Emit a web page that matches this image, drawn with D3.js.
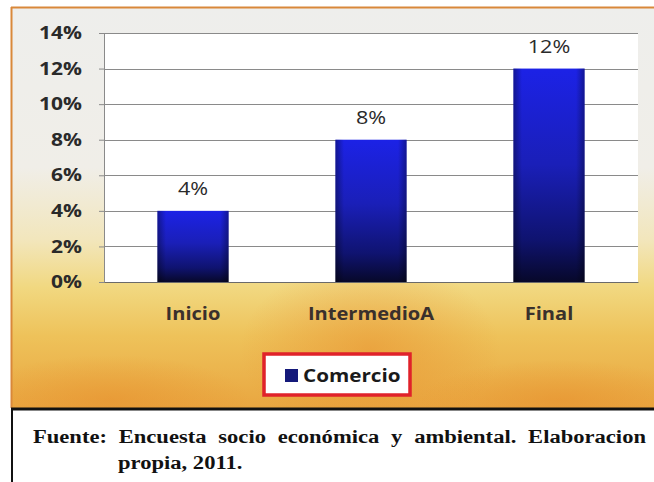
<!DOCTYPE html>
<html><head><meta charset="utf-8">
<script src="https://cdn.jsdelivr.net/npm/d3@7"></script>
<style>html,body{margin:0;padding:0;background:#fff;overflow:hidden}</style>
</head><body>
<svg id="c" width="654" height="482"></svg>
<script>
const categories = ["Inicio", "IntermedioA", "Final"];
const comercio = [0.04, 0.08, 0.12];
const yTicks = [0, 0.02, 0.04, 0.06, 0.08, 0.10, 0.12, 0.14];
const seriesName = "Comercio";
const sourceLine1 = ["Fuente:", "Encuesta", "socio", "económica", "y", "ambiental.", "Elaboracion"];
const sourceLine2 = "propia, 2011.";

(function(){
const svg = d3.select("#c");
const defs = svg.append("defs");
const SANS = "'Open Sans', Lato, sans-serif";
function stretch(sel, k){
  sel.each(function(){ const w = this.getComputedTextLength();
    d3.select(this).attr("textLength", w*k).attr("lengthAdjust","spacingAndGlyphs"); });
}

defs.append("clipPath").attr("id","frameClip").append("rect").attr("x",11).attr("y",7).attr("width",660).attr("height",401);

const bg = defs.append("linearGradient").attr("id","bg").attr("x1",0).attr("y1",0).attr("x2",0).attr("y2",1);
[[0,"#eeeeec"],[0.4,"#f0eee8"],[0.58,"#f2e6bc"],[0.7,"#f1d880"],[0.82,"#eec25a"],[1,"#e9a640"]]
  .forEach(([o,c])=>bg.append("stop").attr("offset",o).attr("stop-color",c));
const blot = defs.append("radialGradient").attr("id","blot").attr("cx",0.5).attr("cy",0.5).attr("r",0.5);
blot.append("stop").attr("offset",0).attr("stop-color","#e8902e").attr("stop-opacity",0.55);
blot.append("stop").attr("offset",1).attr("stop-color","#e8902e").attr("stop-opacity",0);
const bar = defs.append("linearGradient").attr("id","bar").attr("x1",0).attr("y1",0).attr("x2",0).attr("y2",1);
[[0,"#1c22e6"],[0.45,"#1a1fb8"],[0.8,"#0f1370"],[1,"#07082a"]]
  .forEach(([o,c])=>bar.append("stop").attr("offset",o).attr("stop-color",c));
const barH = defs.append("linearGradient").attr("id","barH").attr("x1",0).attr("y1",0).attr("x2",1).attr("y2",0);
[[0,"#000",0.35],[0.12,"#000",0],[0.88,"#000",0],[1,"#000",0.35]]
  .forEach(([o,c,op])=>barH.append("stop").attr("offset",o).attr("stop-color",c).attr("stop-opacity",op));

const frame = svg.append("g").attr("clip-path","url(#frameClip)");
frame.append("rect").attr("x",11).attr("y",7).attr("width",660).attr("height",401).attr("fill","url(#bg)");
frame.append("ellipse").attr("cx",370).attr("cy",350).attr("rx",130).attr("ry",90).attr("fill","url(#blot)");
frame.append("ellipse").attr("cx",110).attr("cy",400).attr("rx",140).attr("ry",45).attr("fill","url(#blot)");
frame.append("ellipse").attr("cx",560).attr("cy",400).attr("rx",140).attr("ry",40).attr("fill","url(#blot)");
svg.append("line").attr("x1",11).attr("x2",654).attr("y1",7.5).attr("y2",7.5).attr("stroke","#d9883a").attr("stroke-width",2);
svg.append("line").attr("x1",11.5).attr("x2",11.5).attr("y1",7).attr("y2",408).attr("stroke","#d9883a").attr("stroke-width",2);

const pL = 104, pR = 638, pT = 33, pB = 282;
const x = d3.scaleBand().domain(categories).range([pL,pR]).paddingInner(0.6).paddingOuter(0.3);
const y = d3.scaleLinear().domain([0,0.14]).range([pB,pT]);

svg.append("rect").attr("x",pL).attr("y",pT).attr("width",pR-pL).attr("height",pB-pT).attr("fill","#ffffff");

svg.append("g").selectAll("line").data(yTicks.filter(d=>d>0)).join("line")
  .attr("x1",pL).attr("x2",pR).attr("y1",d=>Math.round(y(d))+0.5).attr("y2",d=>Math.round(y(d))+0.5)
  .attr("stroke","#8a8a8a").attr("stroke-width",1);

const yAxis = svg.append("g").attr("transform",`translate(${pL},0)`)
  .call(d3.axisLeft(y).tickValues(yTicks).tickFormat(d3.format(".0%")).tickSize(5).tickPadding(17));
yAxis.select(".domain").attr("stroke","#8a8a8a");
yAxis.selectAll(".tick line").attr("stroke","#8a8a8a");
yAxis.selectAll("text").attr("font-family",SANS).attr("font-weight","bold")
  .attr("font-size",17.5).attr("fill","#2a2a2a");
stretch(yAxis.selectAll("text"), 1.2);

const bars = svg.append("g").selectAll("g").data(categories).join("g");
bars.append("rect").attr("x",d=>x(d)).attr("width",x.bandwidth())
  .attr("y",(d,i)=>y(comercio[i])).attr("height",(d,i)=>y(0)-y(comercio[i])).attr("fill","url(#bar)");
bars.append("rect").attr("x",d=>x(d)).attr("width",x.bandwidth())
  .attr("y",(d,i)=>y(comercio[i])).attr("height",(d,i)=>y(0)-y(comercio[i])).attr("fill","url(#barH)");
const vl = bars.append("text").attr("x",d=>x(d)+x.bandwidth()/2).attr("y",(d,i)=>y(comercio[i])-16)
  .attr("text-anchor","middle").attr("font-family",SANS)
  .attr("font-size",18).attr("fill","#2a2a2a").text((d,i)=>d3.format(".0%")(comercio[i]));
stretch(vl, 1.2);

const xAxis = svg.append("g").attr("transform",`translate(0,${pB})`)
  .call(d3.axisBottom(x).tickSize(0).tickPadding(26));
xAxis.select(".domain").attr("stroke","#6a6a6a");
xAxis.selectAll("text").attr("font-family",SANS).attr("font-weight","bold")
  .attr("font-size",17).attr("fill","#3a302c");
stretch(xAxis.selectAll("text"), 1.18);

const lg = svg.append("g");
lg.append("rect").attr("x",264).attr("y",354).attr("width",146).attr("height",41)
  .attr("fill","#ffffff").attr("stroke","#e0222a").attr("stroke-width",3.5);
lg.append("rect").attr("x",285).attr("y",369).attr("width",13).attr("height",13).attr("fill","#14197a");
const lt = lg.append("text").attr("x",303).attr("y",382).attr("font-family",SANS)
  .attr("font-weight","bold").attr("font-size",17.5).attr("fill","#1a1a1a").text(seriesName);
stretch(lt, 1.18);

svg.append("line").attr("x1",11).attr("x2",654).attr("y1",409).attr("y2",409).attr("stroke","#111").attr("stroke-width",3);
svg.append("line").attr("x1",12).attr("x2",12).attr("y1",409).attr("y2",482).attr("stroke","#111").attr("stroke-width",2);
const SERIF = "'Liberation Serif', 'DejaVu Serif', serif";
const g1 = svg.append("g").attr("font-family",SERIF).attr("font-weight","bold").attr("font-size",18.5).attr("fill","#111");
const words = g1.selectAll("text").data(sourceLine1).join("text").attr("y",443).text(d=>d);
stretch(words, 1.22);
const widths = words.nodes().map(n=>+n.getAttribute("textLength"));
const x0 = 33, x1 = 646;
const gap = (x1 - x0 - d3.sum(widths)) / (sourceLine1.length - 1);
let cx = x0;
words.each(function(d,i){ d3.select(this).attr("x",cx); cx += widths[i] + gap; });
const l2 = g1.append("text").attr("x",118).attr("y",469).text(sourceLine2);
stretch(l2, 1.22);
})();
</script>
</body></html>
